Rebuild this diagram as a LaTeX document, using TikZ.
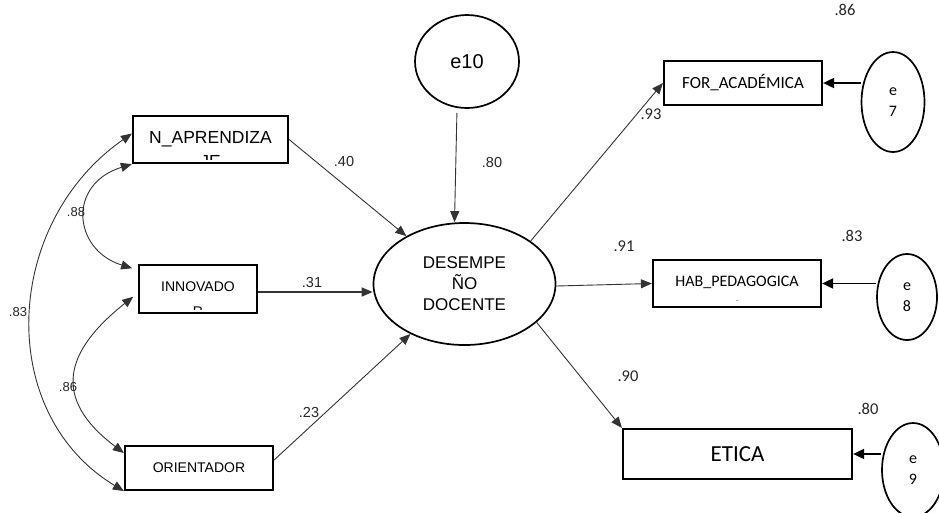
\documentclass[tikz,border=0pt]{standalone}
\usepackage{fontspec}
\setmainfont{Liberation Sans}
\newfontfamily\calibrifont{Carlito}
\usetikzlibrary{shapes.geometric,arrows.meta,positioning}
\tikzset
{
    obsbox/.style  = {rectangle, draw=black, line width=2.2pt, inner sep=0pt},
    latent/.style  = {ellipse, draw=black, line width=1.7pt, inner sep=0pt, align=center},
    errvar/.style  = {ellipse, draw=black, line width=1.7pt, inner sep=0pt, align=center, font=\calibrifont\fontsize{16}{21}\selectfont},
    boxtext/.style = {inner sep=0pt, align=center},
    coef/.style    = {inner sep=0pt, text=black!85, font=\fontsize{14.5}{16}\selectfont},
    coefc/.style   = {inner sep=0pt, text=black!85, font=\calibrifont\fontsize{16.5}{18}\selectfont},
    regpath/.style = {-{Triangle[length=11pt,width=9pt]}, draw=black!80, line width=0.9pt},
    errpath/.style = {-{Triangle[length=11pt,width=10pt]}, draw=black, line width=1.8pt},
    covpath/.style = {{Triangle[length=11pt,width=9pt]}-{Triangle[length=11pt,width=9pt]}, draw=black!80, line width=0.9pt}
}

\begin{document}
\begin{tikzpicture}[x=1pt, y=-1pt]
\clip (0,0) rectangle (939,512);

% exogenous variables
\node (nap)[obsbox, minimum width=155pt, minimum height=47pt]    at (210.5,139.5) {};
\node (innov)[obsbox, minimum width=118pt, minimum height=48pt]  at (198,289)     {};
\node (orient)[obsbox, minimum width=148pt, minimum height=44pt, font=\fontsize{14}{16}\selectfont] at (199,468) {ORIENTADOR};

\begin{scope}
  \clip ([yshift=5pt]nap.south west) rectangle (nap.north east);
  \node (naptxt)[boxtext, font=\fontsize{17.5}{24}\selectfont] at ([yshift=-10pt]nap.center) {N\_APRENDIZA\\JE};
\end{scope}
\begin{scope}
  \clip ([yshift=5pt]innov.south west) rectangle (innov.north east);
  \node (innovtxt)[boxtext, font=\fontsize{14}{25}\selectfont] at ([yshift=-10pt]innov.center) {INNOVADO\\R};
\end{scope}

% latent variable and its error
\node (des)[latent, minimum width=182pt, minimum height=122pt, font=\fontsize{17}{21}\selectfont] at (464.5,284) {DESEMPE\\ÑO\\DOCENTE};
\node (e10)[latent, minimum width=104pt, minimum height=93pt, font=\fontsize{20}{22}\selectfont] at (467,61.5) {e10};

% indicators
\node (fac)[obsbox, minimum width=158pt, minimum height=44pt, font=\calibrifont\fontsize{17}{19}\selectfont] at (743,83)    {FOR\_ACADÉMICA};
\node (hab)[obsbox, minimum width=168pt, minimum height=47pt]   at (737,283.5) {};
\node (eti)[obsbox, minimum width=229pt, minimum height=50pt, font=\calibrifont\fontsize{23}{25}\selectfont] at (737.5,454) {ETICA};

\begin{scope}
  \clip ([yshift=8pt]hab.south west) rectangle (hab.north east);
  \node (habtxt)[boxtext, font=\calibrifont\fontsize{16}{25}\selectfont] at ([yshift=-10pt]hab.center) {HAB\_PEDAGOGICA\\S};
\end{scope}

\node (e7)[errvar, minimum width=63pt, minimum height=100pt] at (893,102) {e\\7};
\node (e8)[errvar, minimum width=60pt, minimum height=86pt]  at (907,297) {e\\8};
\node (e9)[errvar, minimum width=62pt, minimum height=94pt]  at (913,470) {e\\9};

% paths
\draw[regpath] (nap.east) -- (des);
\draw[regpath, line width=1.6pt] ([yshift=-3pt]innov.east) -- ([yshift=-8pt]des.west);
\draw[regpath] ([yshift=8pt]orient.east) -- (des);
\draw[regpath, shorten <=4pt] ([xshift=-10pt]e10.south) -- ([xshift=-10pt]des.north);

\draw[regpath] (des.33) -- (fac.west);
\draw[regpath] ([yshift=-2pt]des.east) -- (hab.west);
\draw[regpath] (des.-28) -- (eti.north west);

\draw[errpath] (e7.west |- fac.east) -- (fac.east);
\draw[errpath] (e8.west |- hab.east) -- (hab.east);
\draw[errpath] (e9.west |- eti.east) -- (eti.east);

% covariances
\draw[covpath, shorten >=6pt] (nap.south west) .. controls +(-65,20) and +(-65,-20) .. ([yshift=19pt]innov.west);
\draw[covpath, shorten <=6pt] ([yshift=-4pt]innov.west) .. controls +(-73,58) and +(-73,-55) .. ([yshift=15pt]orient.west);
\draw[covpath] ([yshift=6pt]nap.west) .. controls +(-129,90) and +(-129,-78) .. (orient.south west);

% coefficients
\node (c40)[coef]  at (344,162) {.40};
\node (c31)[coef]  at (312,283) {.31};
\node (c23)[coef]  at (309,412) {.23};
\node (c80)[coef]  at (492,163) {.80};
\node (c93)[coefc] at (651,114) {.93};
\node (c91)[coefc] at (624,246) {.91};
\node (c90)[coefc] at (628,376) {.90};
\node (r86)[coefc] at (845,10)  {.86};
\node (r83)[coefc] at (852,236) {.83};
\node (r80)[coefc] at (868,409) {.80};
\node (k88)[coef, font=\fontsize{13}{15}\selectfont] at (76,212) {.88};
\node (k86)[coef, font=\fontsize{13}{15}\selectfont] at (68,387) {.86};
\node (k83)[coef, font=\fontsize{13}{15}\selectfont] at (18,312) {.83};

\end{tikzpicture}
\end{document}
